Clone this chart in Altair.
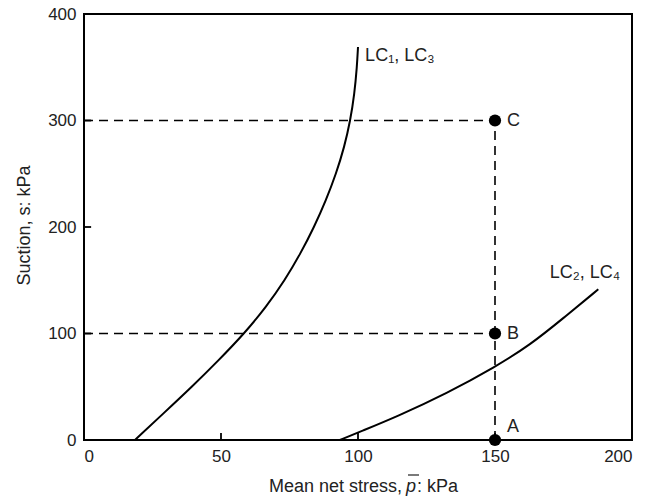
import altair as alt
import pandas as pd

# LC1 / LC3 yield curve (mean net stress p, suction s)
lc1_p = [18.6, 29.0, 39.4, 49.2, 58.5, 66.5, 73.3, 79.0, 84.0, 88.3, 92.0, 95.0, 97.2, 98.7, 99.6, 100.0]
lc1_s = [0, 25, 50, 75, 100, 125, 150, 175, 200, 225, 250, 275, 300, 325, 350, 369]
# LC2 / LC4 yield curve
lc2_p = [93.4, 100.7, 114.1, 132.4, 150.2, 162.8, 174.9, 187.7]
lc2_s = [0, 7.8, 21.9, 43.8, 68.8, 89.2, 114.3, 141.5]

# stress states
pt_names = ["A", "B", "C"]
pt_p = [150, 150, 150]
pt_s = [0, 100, 300]

# dashed guide segments
seg_x = [0, 0, 150]
seg_x2 = [150, 150, 150]
seg_y = [100, 300, 0]
seg_y2 = [100, 300, 300]

# curve labels
curve_labels = ["LC\u2081, LC\u2083", "LC\u2082, LC\u2084"]
curve_lab_p = [102.6, 170.0]
curve_lab_s = [361, 157]

x_ticks = [0, 50, 100, 150, 200]
y_ticks = [0, 100, 200, 300, 400]
x_inner = [50, 100, 150]
y_inner = [100, 200, 300]

FONT = "Liberation Sans"
FS = 17
TFS = 18

xs = alt.Scale(domain=[0, 200], nice=False)
ys = alt.Scale(domain=[0, 400], nice=False)

curves = pd.DataFrame({
    "p": lc1_p + lc2_p,
    "s": lc1_s + lc2_s,
    "curve": ["LC1"] * len(lc1_p) + ["LC2"] * len(lc2_p),
    "order": list(range(len(lc1_p))) + list(range(len(lc2_p))),
})
pts = pd.DataFrame({"name": pt_names, "p": pt_p, "s": pt_s})
segs = pd.DataFrame({"x": seg_x, "x2": seg_x2, "y": seg_y, "y2": seg_y2})
labs = pd.DataFrame({"t": curve_labels, "p": curve_lab_p, "s": curve_lab_s})

base_x = alt.X("p:Q", scale=xs, axis=alt.Axis(
    values=x_ticks, title=None, domain=False, ticks=False, grid=False,
    labelFont=FONT, labelFontSize=FS, labelColor="#222", labelPadding=8))
base_y = alt.Y("s:Q", scale=ys, axis=alt.Axis(
    values=y_ticks, title="Suction, s: kPa", domain=False, ticks=False, grid=False,
    labelFont=FONT, labelFontSize=FS, labelColor="#222", labelPadding=8,
    titleFont=FONT, titleFontSize=TFS, titleFontWeight="normal", titleColor="#222",
    titleAngle=-90, titleX=-60, titleY=211, titleAlign="center", titleBaseline="middle"))

lines = alt.Chart(curves).mark_line(color="black", strokeWidth=2, interpolate="basis").encode(
    x=base_x, y=base_y, detail="curve:N", order="order:Q")

dashes = alt.Chart(segs).mark_rule(color="black", strokeWidth=1.6, strokeDash=[9, 6]).encode(
    x=alt.X("x:Q", scale=xs), x2="x2:Q", y=alt.Y("y:Q", scale=ys), y2="y2:Q")

dots = alt.Chart(pts).mark_point(filled=True, color="black", size=150, opacity=1).encode(
    x=alt.X("p:Q", scale=xs), y=alt.Y("s:Q", scale=ys))

bc_labels = alt.Chart(pts[pts["name"] != "A"]).mark_text(
    align="left", baseline="middle", dx=12, font=FONT, fontSize=TFS, color="#222").encode(
    x=alt.X("p:Q", scale=xs), y=alt.Y("s:Q", scale=ys), text="name:N")
a_label = alt.Chart(pts[pts["name"] == "A"]).mark_text(
    align="left", baseline="middle", dx=12, dy=-13, font=FONT, fontSize=TFS, color="#222").encode(
    x=alt.X("p:Q", scale=xs), y=alt.Y("s:Q", scale=ys), text="name:N")

clabels = alt.Chart(labs).mark_text(
    align="left", baseline="middle", font=FONT, fontSize=TFS, color="#222").encode(
    x=alt.X("p:Q", scale=xs), y=alt.Y("s:Q", scale=ys), text="t:N")

# inward tick marks (length in data units ~7 px)
xt_df = pd.DataFrame({"p": x_inner, "s0": [0] * 3, "s1": [6.6] * 3})
yt_df = pd.DataFrame({"s": y_inner, "p0": [0] * 3, "p1": [2.6] * 3})
xt = alt.Chart(xt_df).mark_rule(color="black", strokeWidth=1.8).encode(
    x=alt.X("p:Q", scale=xs), y=alt.Y("s0:Q", scale=ys), y2="s1:Q")
yt = alt.Chart(yt_df).mark_rule(color="black", strokeWidth=1.8).encode(
    y=alt.Y("s:Q", scale=ys), x=alt.X("p0:Q", scale=xs), x2="p1:Q")

# x-axis title composed of pieces (italic p with overbar)
t_df = pd.DataFrame({"k": [0]})
xt1 = alt.Chart(t_df).mark_text(align="right", baseline="alphabetic", font=FONT, fontSize=TFS, color="#222").encode(
    x=alt.value(318), y=alt.value(478), text=alt.value("Mean net stress, "))
xt2 = alt.Chart(t_df).mark_text(align="left", baseline="alphabetic", font=FONT, fontSize=TFS,
                                fontStyle="italic", color="#222").encode(
    x=alt.value(322), y=alt.value(478), text=alt.value("p"))
xt3 = alt.Chart(t_df).mark_text(align="left", baseline="alphabetic", font=FONT, fontSize=TFS, color="#222").encode(
    x=alt.value(333), y=alt.value(478), text=alt.value(": kPa"))
bar = alt.Chart(t_df).mark_rule(color="#222", strokeWidth=1.2).encode(
    x=alt.value(324), x2=alt.value(335), y=alt.value(461))

chart = alt.layer(lines, dashes, xt, yt, dots, bc_labels, a_label, clabels, xt1, xt2, xt3, bar).properties(
    width=548, height=426,
    padding={"left": 84, "top": 14, "right": 22, "bottom": 59},
    autosize="none",
    background="white",
).configure_view(stroke="black", strokeWidth=2)

chart.save("out.html", embed_options={"renderer": "svg", "actions": False})
